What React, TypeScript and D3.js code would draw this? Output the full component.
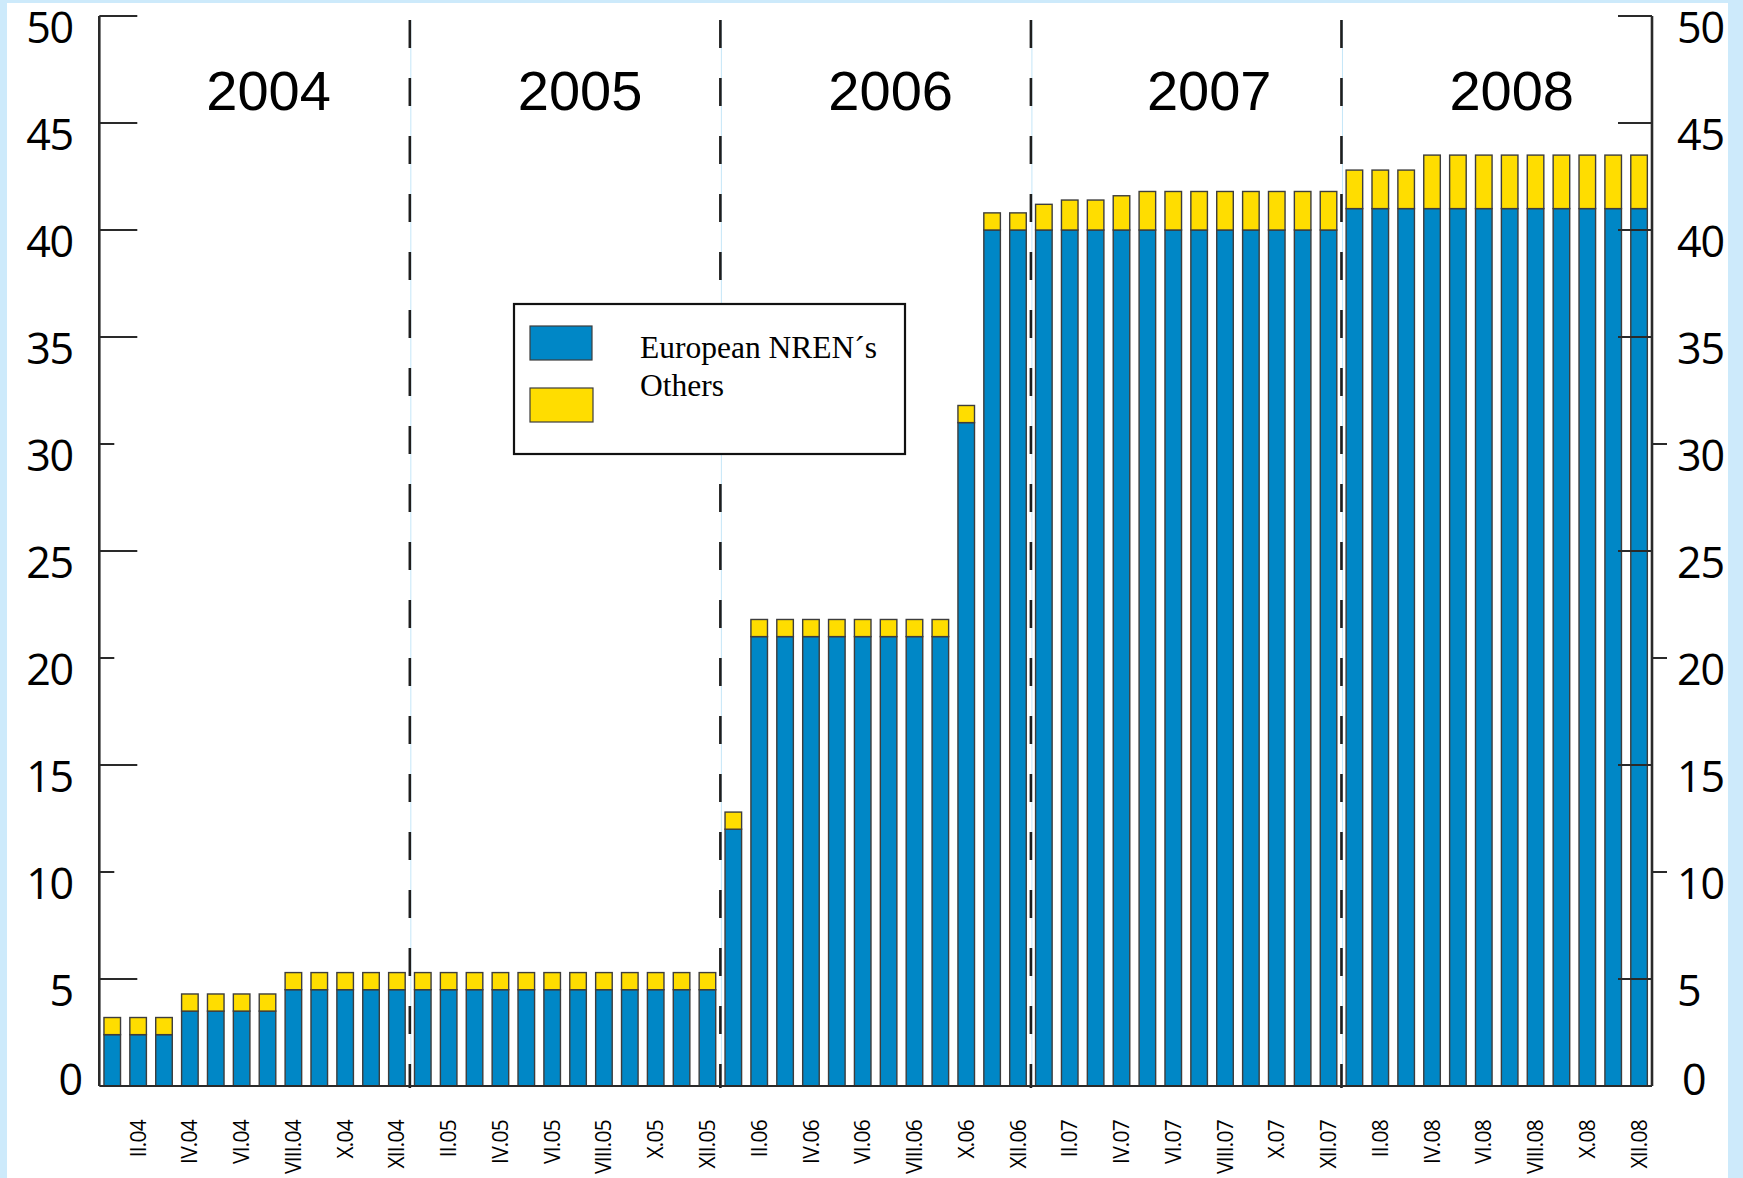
import * as d3 from "d3";

const romanMonths = ["I", "II", "III", "IV", "V", "VI", "VII", "VIII", "IX", "X", "XI", "XII"];
const yearsShort = ["04", "05", "06", "07", "08"];
const yearLabels = ["2004", "2005", "2006", "2007", "2008"];
const categories = yearsShort.flatMap((y) => romanMonths.map((m) => `${m}.${y}`));

// European NRENs (blue)
const european = [
  2.4, 2.4, 2.4, 3.5, 3.5, 3.5, 3.5, 4.5, 4.5, 4.5, 4.5, 4.5,
  4.5, 4.5, 4.5, 4.5, 4.5, 4.5, 4.5, 4.5, 4.5, 4.5, 4.5, 4.5,
  12, 21, 21, 21, 21, 21, 21, 21, 21, 31, 40, 40,
  40, 40, 40, 40, 40, 40, 40, 40, 40, 40, 40, 40,
  41, 41, 41, 41, 41, 41, 41, 41, 41, 41, 41, 41,
];
// Others (yellow)
const others = [
  0.8, 0.8, 0.8, 0.8, 0.8, 0.8, 0.8, 0.8, 0.8, 0.8, 0.8, 0.8,
  0.8, 0.8, 0.8, 0.8, 0.8, 0.8, 0.8, 0.8, 0.8, 0.8, 0.8, 0.8,
  0.8, 0.8, 0.8, 0.8, 0.8, 0.8, 0.8, 0.8, 0.8, 0.8, 0.8, 0.8,
  1.2, 1.4, 1.4, 1.6, 1.8, 1.8, 1.8, 1.8, 1.8, 1.8, 1.8, 1.8,
  1.8, 1.8, 1.8, 2.5, 2.5, 2.5, 2.5, 2.5, 2.5, 2.5, 2.5, 2.5,
];
const yTicks = [0, 5, 10, 15, 20, 25, 30, 35, 40, 45, 50];
const seriesNames = ["European NREN´s", "Others"];

const W = 1743;
const H = 1178;
const BLUE = "#0087c6";
const YELLOW = "#ffdd00";
const BAR_STROKE = "#3d3d3d";
const AXIS = "#2a2a2a";
const TICK_FONT = "'Open Sans', 'DejaVu Sans', sans-serif";

export default function App() {
  const x = d3
    .scaleBand<number>()
    .domain(d3.range(categories.length))
    .range([99.3, 1652])
    .paddingInner(0.36)
    .paddingOuter(0.18);
  const y = d3.scaleLinear().domain([0, 50]).range([1086, 16]);

  const step = x.step();
  const bw = x.bandwidth();
  const gapHalf = (step - bw) / 2;
  const boundary = (i: number) => (x(i) as number) - gapHalf;
  const [left, right] = x.range();
  const yearDx = [14, 15, 15, 23, 15];

  const stacked = d3
    .stack<number>()
    .keys(["eu", "ot"])
    .value((i, key) => (key === "eu" ? european[i] : others[i]))(d3.range(categories.length));

  return (
    <svg
      width={W}
      height={H}
      style={{ position: "absolute", left: 0, top: 0, display: "block" }}
    >
      <rect x={0} y={0} width={W} height={H} fill="#cdeafb" />
      <rect x={7} y={3} width={1721} height={H - 3} fill="#ffffff" />

      {/* year separators */}
      {[12, 24, 36, 48].map((i) => (
        <g key={i}>
          <line x1={boundary(i) + 1} x2={boundary(i) + 1} y1={20} y2={y(0)} stroke="#c4e6f8" strokeWidth={1} />
          <line
            x1={boundary(i)}
            x2={boundary(i)}
            y1={20}
            y2={y(0) + 2}
            stroke="#1e1e1e"
            strokeWidth={2.6}
            strokeDasharray="28 30"
          />
        </g>
      ))}

      {/* bars */}
      {stacked.map((layer, li) => (
        <g key={li} fill={li === 0 ? BLUE : YELLOW} stroke={BAR_STROKE} strokeWidth={1.4}>
          {layer.map((d, i) => (
            <rect
              key={i}
              x={x(i)}
              y={y(d[1])}
              width={bw}
              height={y(d[0]) - y(d[1])}
            />
          ))}
        </g>
      ))}

      {/* axes */}
      <line x1={left} x2={left} y1={y(50)} y2={y(0)} stroke={AXIS} strokeWidth={2.6} />
      <line x1={right} x2={right} y1={y(50)} y2={y(0)} stroke={AXIS} strokeWidth={2.6} />
      <line x1={left} x2={right} y1={y(0)} y2={y(0)} stroke={AXIS} strokeWidth={2.2} />

      {yTicks.map((t) => {
        const minor = t === 10 || t === 20 || t === 30;
        const ty = y(t);
        return (
          <g key={t}>
            {t !== 0 && (
              <>
                <line x1={left} x2={left + (minor ? 15 : 38)} y1={ty} y2={ty} stroke={AXIS} strokeWidth={2} />
                <line x1={right} x2={minor ? right + 15 : right - 34} y1={ty} y2={ty} stroke={AXIS} strokeWidth={2} />
              </>
            )}
            <text
              x={t === 0 ? 82 : 73}
              y={t === 0 ? ty + 9 : ty + 27}
              textAnchor="end"
              fontFamily={TICK_FONT}
              fontSize={43}
              letterSpacing={-1.2}
              fill="#000"
            >
              {t}
            </text>
            <text
              x={t === 0 ? 1682 : 1677}
              y={t === 0 ? ty + 9 : ty + 27}
              textAnchor="start"
              fontFamily={TICK_FONT}
              fontSize={43}
              letterSpacing={-1.2}
              fill="#000"
            >
              {t}
            </text>
          </g>
        );
      })}

      {/* month labels */}
      {categories.map((c, i) =>
        i % 2 === 1 ? (
          <text
            key={c}
            transform={`translate(${(x(i) as number) + bw / 2},1120) rotate(-90)`}
            textAnchor="end"
            dy="0.36em"
            fontFamily={TICK_FONT}
            fontSize={21}
            letterSpacing={-0.8}
            fill="#000"
          >
            {c}
          </text>
        ) : null
      )}

      {/* year labels */}
      {yearLabels.map((yl, k) => (
        <text
          key={yl}
          x={(boundary(k * 12) + (k === 4 ? right : boundary(k * 12 + 12))) / 2 + yearDx[k]}
          y={110}
          textAnchor="middle"
          fontFamily="'Liberation Sans', Arial, sans-serif"
          fontSize={56}
          fill="#000"
        >
          {yl}
        </text>
      ))}

      {/* legend */}
      <g>
        <rect x={514} y={304} width={391} height={150} fill="#fff" stroke="#111" strokeWidth={2.2} />
        <rect x={530} y={326} width={62} height={34} fill={BLUE} stroke={BAR_STROKE} strokeWidth={1.2} />
        <rect x={530} y={388} width={63} height={34} fill={YELLOW} stroke={BAR_STROKE} strokeWidth={1.2} />
        {seriesNames.map((n, k) => (
          <text
            key={n}
            x={640}
            y={358 + k * 38}
            fontFamily="'Liberation Serif', 'Times New Roman', serif"
            fontSize={31.5}
            fill="#000"
          >
            {n}
          </text>
        ))}
      </g>
    </svg>
  );
}
